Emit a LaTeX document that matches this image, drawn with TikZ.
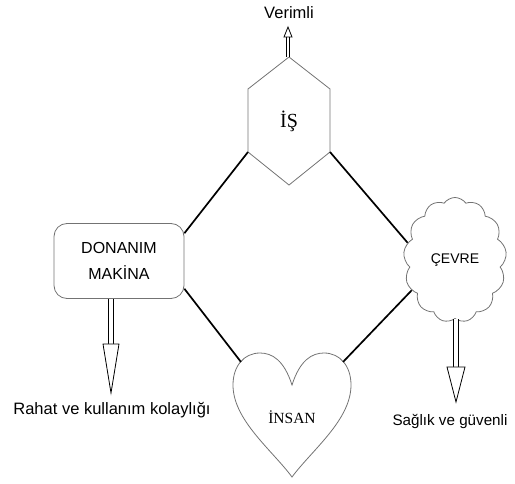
\documentclass[tikz,border=0pt]{standalone}
\usepackage{fontspec}
\setmainfont{Liberation Sans}
\newfontfamily\serifface{Liberation Serif}
\usetikzlibrary{shapes.symbols,calc}

\begin{document}
\begin{tikzpicture}[x=1pt, y=-1pt,
  outline/.style={draw=black!55, line width=0.8pt},
  link/.style={line width=1.7pt},
  shaft/.style={double, double distance=#1, line width=0.8pt},
  head/.style={draw, fill=white, line width=0.8pt, line join=miter},
  lbl/.style={font=\fontsize{16.5}{18}\selectfont},
  boxtext/.style={font=\fontsize{16}{26}\selectfont, align=center},
  serif/.style={font=\serifface\fontsize{#1}{#1}\selectfont}
]
\useasboundingbox (0,0) rectangle (515,484);

% Is (hexagon)
\node[serif=20] (is) at (289,121) {İŞ};
\coordinate (isT) at (289,57);
\coordinate (isUR) at (330,89);
\coordinate (isLR) at (330,152);
\coordinate (isB) at (289,185);
\coordinate (isLL) at (248,152);
\coordinate (isUL) at (248,89);
\draw[outline] (isT) -- (isUR) -- (isLR) -- (isB) -- (isLL) -- (isUL) -- cycle;

% Donanim / makina
\node[outline, rounded corners=13pt, minimum width=130pt, minimum height=75pt,
  boxtext] (donanim) at (119,261) {DONANIM\\MAKİNA};

% Cevre (cloud)
\node[outline, cloud, cloud puffs=13, cloud puff arc=110, cloud ignores aspect,
  minimum width=103pt, minimum height=125pt, inner sep=0pt,
  font=\fontsize{14}{16}\selectfont] (cevre) at (455,260) {ÇEVRE};

% Insan (heart)
\node[serif=15.5] (insan) at (292,417) {İNSAN};
\draw[outline] (292,385) .. controls (300,360) and (312,353) .. (324,353)
  .. controls (340,353) and (351,366) .. (351,385)
  .. controls (351,420) and (312,450) .. (292,477)
  .. controls (272,450) and (233,420) .. (233,385)
  .. controls (233,366) and (244,353) .. (260,353)
  .. controls (272,353) and (284,360) .. (292,385) -- cycle;
\coordinate (heartL) at (241,362);
\coordinate (heartR) at (343,362);

% Connections
\draw[link] (isLL) -- (donanim.23);
\draw[link] (isLR) -- (cevre.160);
\draw[link] (donanim.-23) -- (heartL);
\draw[link] (cevre.215) -- (heartR);

% Outcomes
\coordinate (verimliTip) at (288,27);
\draw[shaft=2.2pt] (isT -| verimliTip) -- ($(verimliTip)+(0,10)$);
\draw[head] ($(verimliTip)+(-4,10)$) -- (verimliTip) -- ($(verimliTip)+(4,10)$) -- cycle;
\node[lbl] (verimli) at (289,13) {Verimli};

\coordinate (rahatTip) at (111,393);
\draw[shaft=3.5pt] (donanim.south -| rahatTip) -- ($(rahatTip)+(0,-49)$);
\draw[head] ($(rahatTip)+(-8,-49)$) -- (rahatTip) -- ($(rahatTip)+(8,-49)$) -- cycle;
\node[lbl] (rahat) at (112,410) {Rahat ve kullanım kolaylığı};

\coordinate (cevreTip) at (456,402);
\draw[shaft=3.5pt] (cevre.south -| cevreTip) -- ($(cevreTip)+(0,-35)$);
\draw[head] ($(cevreTip)+(-9,-35)$) -- (cevreTip) -- ($(cevreTip)+(9,-35)$) -- cycle;
\node[lbl, font=\fontsize{15.2}{18}\selectfont, anchor=west] (saglik) at (389,421) {Sağlık ve güvenli};
\end{tikzpicture}
\end{document}
